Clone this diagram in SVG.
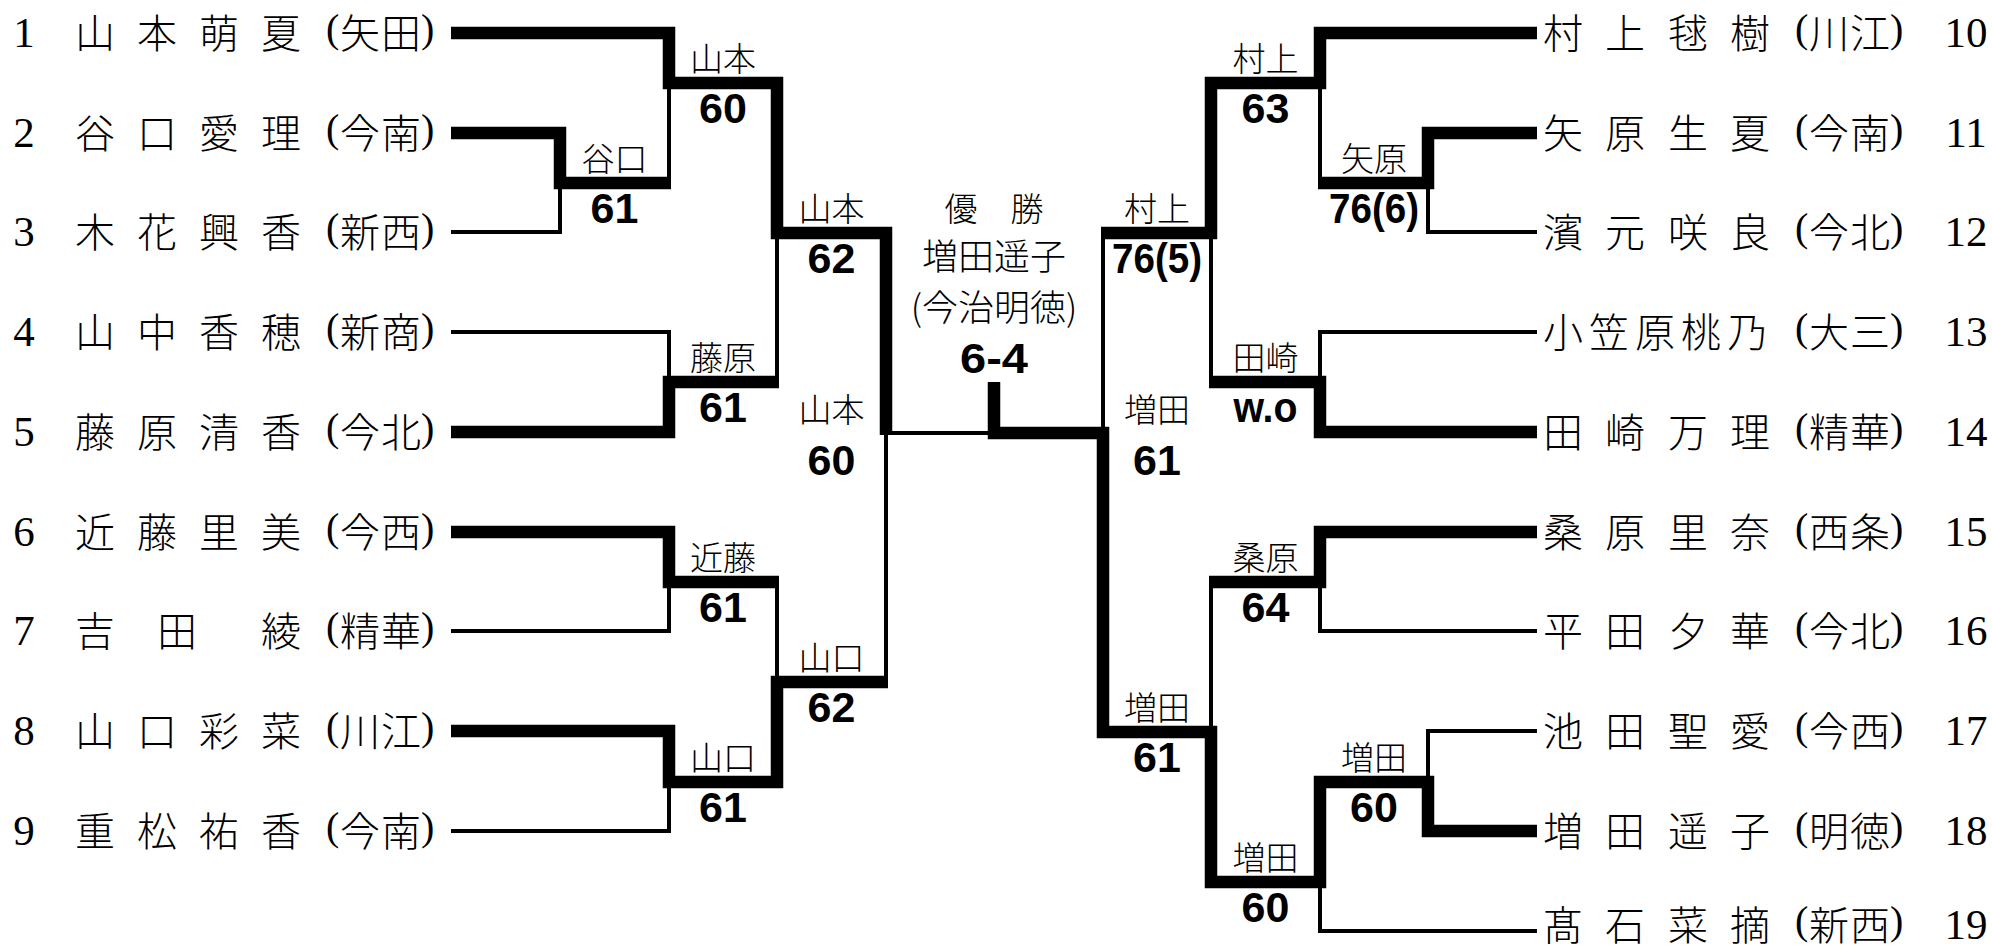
<svg xmlns="http://www.w3.org/2000/svg" width="1992" height="949" viewBox="0 0 1992 949">
<style>
.thick{fill:none;stroke:#000;stroke-width:12.5;stroke-linejoin:miter;stroke-miterlimit:10;stroke-linecap:butt}
.thin{fill:none;stroke:#000;stroke-width:4;stroke-linejoin:miter;stroke-linecap:butt}
.nm{font-family:"Liberation Serif","Noto Sans CJK JP",serif;font-size:40px;font-weight:300;fill:#000}
.num{font-family:"Liberation Serif",serif;font-size:43px;fill:#000;text-anchor:middle}
.lb{font-family:"Noto Sans CJK JP",sans-serif;font-size:33px;font-weight:300;fill:#000;text-anchor:middle}
.ct{font-family:"Noto Sans CJK JP",sans-serif;font-size:36px;font-weight:300;fill:#000;text-anchor:middle}
.sc{font-family:"Liberation Sans",Arial,sans-serif;font-weight:bold;font-size:43px;fill:#000;text-anchor:middle}
</style>
<rect width="1992" height="949" fill="#fff"/>
<g id="connectors">
<path class="thick" d="M451,33 H669 V83 H777 V233 H886 V435"/>
<path class="thick" d="M451,133 H560 V183 H671"/>
<path class="thick" d="M451,432 H669 V382 H779"/>
<path class="thick" d="M451,532 H669 V582 H779"/>
<path class="thick" d="M451,731 H669 V782 H777 V682 H888"/>
<path class="thin" d="M451,232 H560 V183"/>
<path class="thin" d="M669,183 V83"/>
<path class="thin" d="M451,332 H669 V382"/>
<path class="thin" d="M777,382 V233"/>
<path class="thin" d="M451,631 H669 V582"/>
<path class="thin" d="M451,831 H669 V782"/>
<path class="thin" d="M777,582 V682"/>
<path class="thin" d="M886,682 V433 H994"/>
<path class="thick" d="M1537,33 H1320 V83 H1211 V233 H1101"/>
<path class="thick" d="M1537,133 H1428 V183 H1318"/>
<path class="thick" d="M1537,432 H1320 V382 H1209"/>
<path class="thick" d="M1537,532 H1320 V582 H1209"/>
<path class="thick" d="M1537,831 H1428 V782 H1320 V882 H1211 V732 H1103 V433 H994 V382"/>
<path class="thin" d="M1537,232 H1428 V183"/>
<path class="thin" d="M1320,183 V83"/>
<path class="thin" d="M1537,332 H1320 V382"/>
<path class="thin" d="M1211,382 V233"/>
<path class="thin" d="M1103,233 V433"/>
<path class="thin" d="M1537,631 H1320 V582"/>
<path class="thin" d="M1537,731 H1428 V782"/>
<path class="thin" d="M1537,931 H1320 V882"/>
<path class="thin" d="M1211,582 V732"/>
</g>
<g id="p1"><text class="num" x="24" y="47">1</text><text class="nm" x="75 137 199 261 326 340 381 421" y="47.5 47.5 47.5 47.5 41.5 47.5 47.5 41.5">山本萌夏(矢田)</text></g>
<g id="p2"><text class="num" x="24" y="147">2</text><text class="nm" x="75 137 199 261 326 340 381 421" y="147.5 147.5 147.5 147.5 141.5 147.5 147.5 141.5">谷口愛理(今南)</text></g>
<g id="p3"><text class="num" x="24" y="246">3</text><text class="nm" x="75 137 199 261 326 340 381 421" y="246.5 246.5 246.5 246.5 240.5 246.5 246.5 240.5">木花興香(新西)</text></g>
<g id="p4"><text class="num" x="24" y="346">4</text><text class="nm" x="75 137 199 261 326 340 381 421" y="346.5 346.5 346.5 346.5 340.5 346.5 346.5 340.5">山中香穂(新商)</text></g>
<g id="p5"><text class="num" x="24" y="446">5</text><text class="nm" x="75 137 199 261 326 340 381 421" y="446.5 446.5 446.5 446.5 440.5 446.5 446.5 440.5">藤原清香(今北)</text></g>
<g id="p6"><text class="num" x="24" y="546">6</text><text class="nm" x="75 137 199 261 326 340 381 421" y="546.5 546.5 546.5 546.5 540.5 546.5 546.5 540.5">近藤里美(今西)</text></g>
<g id="p7"><text class="num" x="24" y="645">7</text><text class="nm" x="75 157 261 326 340 381 421" y="645.5 645.5 645.5 639.5 645.5 645.5 639.5">吉田綾(精華)</text></g>
<g id="p8"><text class="num" x="24" y="745">8</text><text class="nm" x="75 137 199 261 326 340 381 421" y="745.5 745.5 745.5 745.5 739.5 745.5 745.5 739.5">山口彩菜(川江)</text></g>
<g id="p9"><text class="num" x="24" y="845">9</text><text class="nm" x="75 137 199 261 326 340 381 421" y="845.5 845.5 845.5 845.5 839.5 845.5 845.5 839.5">重松祐香(今南)</text></g>
<g id="p10"><text class="nm" x="1543 1605 1668 1730 1795 1809 1850 1890" y="47.5 47.5 47.5 47.5 41.5 47.5 47.5 41.5">村上毬樹(川江)</text><text class="num" x="1966" y="47">10</text></g>
<g id="p11"><text class="nm" x="1543 1605 1668 1730 1795 1809 1850 1890" y="147.5 147.5 147.5 147.5 141.5 147.5 147.5 141.5">矢原生夏(今南)</text><text class="num" x="1966" y="147">11</text></g>
<g id="p12"><text class="nm" x="1543 1605 1668 1730 1795 1809 1850 1890" y="246.5 246.5 246.5 246.5 240.5 246.5 246.5 240.5">濱元咲良(今北)</text><text class="num" x="1966" y="246">12</text></g>
<g id="p13"><text class="nm" x="1543 1589 1635 1681 1727 1795 1809 1850 1890" y="346.5 346.5 346.5 346.5 346.5 340.5 346.5 346.5 340.5">小笠原桃乃(大三)</text><text class="num" x="1966" y="346">13</text></g>
<g id="p14"><text class="nm" x="1543 1605 1668 1730 1795 1809 1850 1890" y="446.5 446.5 446.5 446.5 440.5 446.5 446.5 440.5">田崎万理(精華)</text><text class="num" x="1966" y="446">14</text></g>
<g id="p15"><text class="nm" x="1543 1605 1668 1730 1795 1809 1850 1890" y="546.5 546.5 546.5 546.5 540.5 546.5 546.5 540.5">桑原里奈(西条)</text><text class="num" x="1966" y="546">15</text></g>
<g id="p16"><text class="nm" x="1543 1605 1668 1730 1795 1809 1850 1890" y="645.5 645.5 645.5 645.5 639.5 645.5 645.5 639.5">平田夕華(今北)</text><text class="num" x="1966" y="645">16</text></g>
<g id="p17"><text class="nm" x="1543 1605 1668 1730 1795 1809 1850 1890" y="745.5 745.5 745.5 745.5 739.5 745.5 745.5 739.5">池田聖愛(今西)</text><text class="num" x="1966" y="745">17</text></g>
<g id="p18"><text class="nm" x="1543 1605 1668 1730 1795 1809 1850 1890" y="845.5 845.5 845.5 845.5 839.5 845.5 845.5 839.5">増田遥子(明徳)</text><text class="num" x="1966" y="845">18</text></g>
<g id="p19"><text class="nm" x="1543 1605 1668 1730 1795 1809 1850 1890" y="940 940 940 940 934 940 940 934">髙石菜摘(新西)</text><text class="num" x="1966" y="939">19</text></g>
<g id="mA"><text class="lb" x="614.5" y="171">谷口</text><text class="sc" x="614.5" y="223">61</text></g>
<g id="mB"><text class="lb" x="723" y="71">山本</text><text class="sc" x="723" y="123">60</text></g>
<g id="mC"><text class="lb" x="723" y="370">藤原</text><text class="sc" x="723" y="422">61</text></g>
<g id="mD"><text class="lb" x="831.5" y="221">山本</text><text class="sc" x="831.5" y="273">62</text></g>
<g id="mSL"><text class="lb" x="831.5" y="422">山本</text><text class="sc" x="831.5" y="475">60</text></g>
<g id="mE"><text class="lb" x="723" y="570">近藤</text><text class="sc" x="723" y="622">61</text></g>
<g id="mF"><text class="lb" x="723" y="770">山口</text><text class="sc" x="723" y="822">61</text></g>
<g id="mG"><text class="lb" x="831.5" y="670">山口</text><text class="sc" x="831.5" y="722">62</text></g>
<g id="mI"><text class="lb" x="1265.5" y="71">村上</text><text class="sc" x="1265.5" y="123">63</text></g>
<g id="mH"><text class="lb" x="1374" y="171">矢原</text><text class="sc" x="1374" y="223" textLength="90" lengthAdjust="spacingAndGlyphs">76(6)</text></g>
<g id="mK"><text class="lb" x="1157" y="221">村上</text><text class="sc" x="1157" y="273" textLength="90" lengthAdjust="spacingAndGlyphs">76(5)</text></g>
<g id="mJ"><text class="lb" x="1265.5" y="370">田崎</text><text class="sc" x="1265.5" y="422" textLength="64" lengthAdjust="spacingAndGlyphs">w.o</text></g>
<g id="mSR"><text class="lb" x="1157" y="422">増田</text><text class="sc" x="1157" y="475">61</text></g>
<g id="mL"><text class="lb" x="1265.5" y="570">桑原</text><text class="sc" x="1265.5" y="622">64</text></g>
<g id="mQ"><text class="lb" x="1157" y="720">増田</text><text class="sc" x="1157" y="772">61</text></g>
<g id="mM"><text class="lb" x="1374" y="770">増田</text><text class="sc" x="1374" y="822">60</text></g>
<g id="mN"><text class="lb" x="1265.5" y="870">増田</text><text class="sc" x="1265.5" y="922">60</text></g>
<g id="champion">
<text class="lb" x="994" y="221">優　勝</text>
<text class="ct" x="994" y="270">増田遥子</text>
<text class="ct" x="994" y="321">(今治明徳)</text>
<text class="sc" x="994" y="373" textLength="68" lengthAdjust="spacingAndGlyphs">6-4</text>
</g>
</svg>
